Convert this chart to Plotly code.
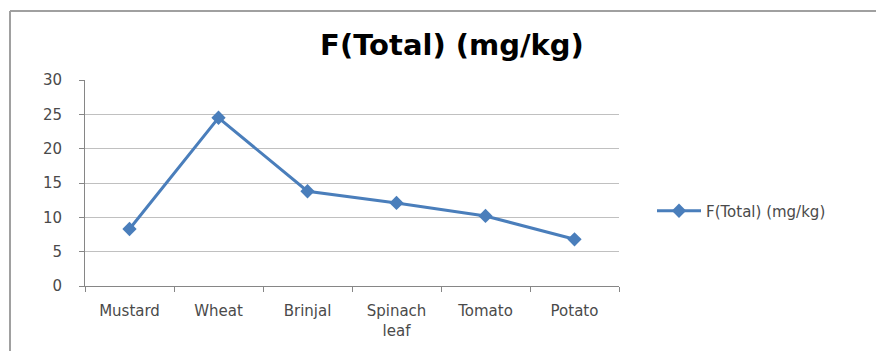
import plotly.graph_objects as go

categories = ["Mustard", "Wheat", "Brinjal", "Spinach<br>leaf", "Tomato", "Potato"]
values = [8.3, 24.5, 13.8, 12.1, 10.2, 6.8]
series_name = "F(Total) (mg/kg)"
title_text = "F(Total) (mg/kg)"
y_ticks = [0, 5, 10, 15, 20, 25, 30]

line_color = "#4A7EBB"
grid_color = "#C0C0C0"
text_color = "#4A4A4A"

fig = go.Figure()
fig.add_trace(go.Scatter(
    x=categories, y=values, name=series_name, mode="lines+markers",
    line=dict(color=line_color, width=3),
    marker=dict(symbol="diamond", size=11, color=line_color),
    showlegend=True,
))

OFF = 8  # page body margin
W, H = 884 - OFF, 351 - OFF
L, T = 85 - OFF, 80 - OFF
pw, ph = 534, 206
R, B = W - L - pw, H - T - ph

fig.update_layout(
    width=W, height=H,
    margin=dict(l=L, r=R, t=T, b=B, pad=0, autoexpand=False),
    paper_bgcolor="white", plot_bgcolor="white",
    title=dict(text="<b>" + title_text + "</b>", x=(452 - OFF) / W, xanchor="center",
               y=1 - (45 - OFF) / H, yanchor="middle",
               font=dict(family="DejaVu Sans", size=29, color="#000000")),
    font=dict(family="DejaVu Sans", size=15, color=text_color),
    showlegend=True,
    legend=dict(x=1 + (652 - 85 - pw) / pw, xanchor="left",
                y=1 - (211 - 80) / ph, yanchor="middle",
                bgcolor="rgba(0,0,0,0)", font=dict(size=15, color=text_color),
                itemwidth=44),
    xaxis=dict(showgrid=False, showline=True, linecolor="#868686", linewidth=1,
               ticks="outside", ticklen=5, tickcolor="#868686", tickson="boundaries",
               ticklabelstandoff=11,
               tickfont=dict(size=15, color=text_color), range=[-0.5, 5.5],
               fixedrange=True),
    yaxis=dict(range=[0, 30], tickvals=y_ticks, showgrid=True, gridcolor=grid_color,
               gridwidth=1, showline=True, linecolor="#868686", linewidth=1,
               ticks="outside", ticklen=5, tickcolor="#868686",
               ticklabelstandoff=14, tickfont=dict(size=15, color=text_color),
               zeroline=False, fixedrange=True),
)

# Chart frame (left and top edges visible in the reference)
x_left = (10 - 85) / pw
y_top = 1 + (80 - 11) / ph
fig.add_shape(type="line", xref="paper", yref="paper", x0=x_left, x1=x_left,
              y0=-B / ph - 0.1, y1=y_top, line=dict(color="#A0A0A0", width=2))
fig.add_shape(type="line", xref="paper", yref="paper", x0=x_left, x1=1 + R / pw + 0.1,
              y0=y_top, y1=y_top, line=dict(color="#A0A0A0", width=2))

fig.write_html("out.html")
